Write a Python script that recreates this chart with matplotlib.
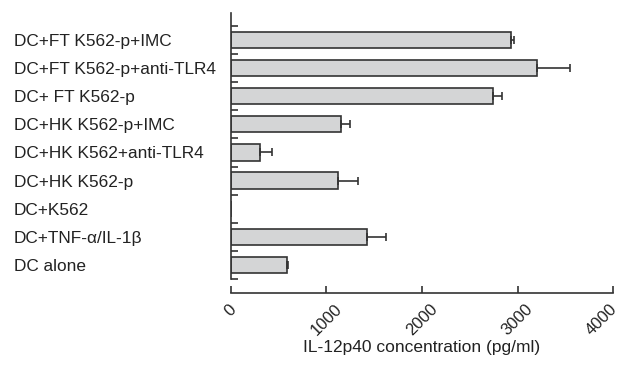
import matplotlib
matplotlib.use("Agg")
import matplotlib.pyplot as plt
import matplotlib.transforms as mtransforms
import numpy as np

categories = ["DC+FT K562-p+IMC", "DC+FT K562-p+anti-TLR4", "DC+ FT K562-p",
              "DC+HK K562-p+IMC", "DC+HK K562+anti-TLR4", "DC+HK K562-p",
              "DC+K562", "DC+TNF-α/IL-1β", "DC alone"]
values = [2930, 3200, 2740, 1150, 310, 1120, 0, 1430, 590]
errors = [35, 350, 100, 100, 125, 210, 0, 190, 10]
xticks = [0, 1000, 2000, 3000, 4000]
xlabel = "IL-12p40 concentration (pg/ml)"

plt.rcParams['font.family'] = ['Liberation Sans', 'DejaVu Sans']

fig = plt.figure(figsize=(6.21, 3.65), dpi=100)
ax = fig.add_axes([230.7/621, 71.7/365, 382.6/621, 280/365])

n = len(categories)
ypos = np.arange(n)[::-1]
edge = '#333333'
ax.barh(ypos, values, height=0.58, color='#d4d5d6', edgecolor=edge, linewidth=1.2, zorder=2)
xerr = np.vstack([np.zeros(n), errors])
mask = np.array(values) > 0
ax.errorbar(np.array(values)[mask], ypos[mask], xerr=xerr[:, mask], fmt='none',
            ecolor=edge, elinewidth=1.2, capsize=3, capthick=1.2, zorder=3)

ax.set_xlim(0, 4000)
ax.set_ylim(-1.01, 8.95)
for s in ['top', 'right']:
    ax.spines[s].set_visible(False)
ax.spines['left'].set_bounds(-0.5, 8.95)
ax.spines['bottom'].set_bounds(0, 4000)
for s in ['left', 'bottom']:
    ax.spines[s].set_color(edge)
    ax.spines[s].set_linewidth(1.2)

ax.set_yticks(np.arange(-0.5, n, 1.0))
ax.set_yticklabels([])
ax.set_yticks(ypos, minor=True)
ax.set_yticklabels(categories, minor=True, ha='left', fontsize=12.4, color='#222222')
ax.tick_params(axis='y', which='major', direction='in', length=5, width=1.2, color=edge)
ax.tick_params(axis='y', which='minor', length=0, pad=217*72/100)

ax.set_xticks(xticks)
ax.set_xticklabels([str(t) for t in xticks], rotation=45, ha='center', va='top',
                   fontsize=12, color='#222222')
ax.tick_params(axis='x', direction='in', length=5, width=1.2, color=edge, pad=6)
last = ax.get_xticklabels()[-1]
last.set_transform(last.get_transform() +
                   mtransforms.ScaledTranslation(-12/100, 0, fig.dpi_scale_trans))
ax.set_xlabel(xlabel, fontsize=12.5, color='#222222', labelpad=1)

fig.savefig("out.png", dpi=100)
